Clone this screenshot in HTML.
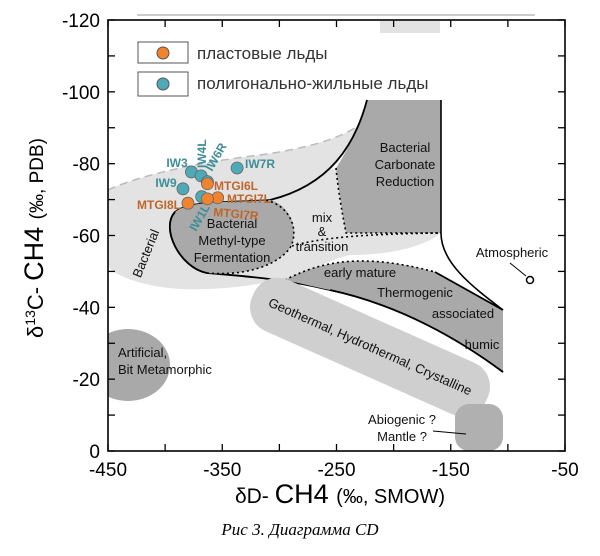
<!DOCTYPE html>
<html><head><meta charset="utf-8"><style>
body{margin:0;background:#fff;}
svg{display:block;font-family:"Liberation Sans",Arial,sans-serif;}
</style></head><body>
<svg id="chart" width="600" height="556" viewBox="0 0 600 556">
<rect width="600" height="556" fill="#fff"/>
<line x1="137" y1="15" x2="535" y2="15" stroke="#bbb" stroke-width="1.5"/>
<g id="regions">
  <rect x="380" y="21" width="60" height="12" fill="#e2e2e2"/>
  <path d="M108,190 C140,175 200,162 260,155 C310,148 340,138 358,126 L367,102 C360,135 345,155 330,170 L336,168 L346,232 L441,233 C420,250 380,255 350,255 C320,262 300,280 268,282 C230,290 180,292 150,285 C125,280 108,270 108,265 Z" fill="#e3e3e3"/>
  <path d="M108,190 C140,175 200,162 260,155 C310,148 340,138 358,126" fill="none" stroke="#bbb" stroke-width="1.5" stroke-dasharray="8,5"/>
  <path d="M367,100 L441,100 L441,233 L346,233 C342,210 338,185 336,168 C348,150 360,125 367,100 Z" fill="#a9a9a9"/>
  <path d="M336,168 C338,190 342,212 346,233 L441,233" fill="none" stroke="#000" stroke-width="1.6" stroke-dasharray="2,3"/>
  <path d="M441,100 L441,233 C441,262 470,285 503,310" fill="none" stroke="#000" stroke-width="1.6"/>
  <path d="M367,100 C355,145 330,185 270,200 C230,203 190,200 175,212 C160,228 180,268 207,273 C240,276 280,278 330,290 C400,305 460,340 503,372" fill="none" stroke="#000" stroke-width="1.8"/>
  <path d="M270,200 C230,203 190,200 175,212 C160,228 180,268 207,273 C240,276 275,268 290,248 C300,230 290,205 270,200 Z" fill="#a9a9a9"/>
  <path d="M175,212 C160,228 180,268 207,273" fill="none" stroke="#000" stroke-width="1.8"/>
  <path d="M207,273 C240,276 275,268 290,248 C300,230 290,205 265,200" fill="none" stroke="#000" stroke-width="1.6" stroke-dasharray="2,3"/>
  <path d="M292,246 C320,238 360,234 441,233" fill="none" stroke="#000" stroke-width="1.6" stroke-dasharray="2,3"/>
  <path d="M285,280 C320,262 360,252 435,272 L503,310 L503,372 C460,340 400,305 330,290 C310,286 295,282 285,280 Z" fill="#a9a9a9"/>
  <path d="M285,280 C320,262 360,252 435,272" fill="none" stroke="#000" stroke-width="1.6" stroke-dasharray="2,3"/>
  <path d="M435,272 L503,310" stroke="#000" stroke-width="1.8"/>
  <g transform="translate(370,347) rotate(24)">
    <rect x="-128" y="-28" width="256" height="56" rx="26" fill="#cfcfcf"/>
    <text x="0" y="4" text-anchor="middle" font-size="13" fill="#111">Geothermal, Hydrothermal, Crystalline</text>
  </g>
  <path d="M330,290 C400,305 460,340 503,372" fill="none" stroke="#000" stroke-width="1.8"/>
  <ellipse cx="128" cy="365" rx="42" ry="36" fill="#a9a9a9"/>
  <rect x="455" y="404" width="48" height="47" rx="14" fill="#b0b0b0"/>
</g>
<g id="frame">
  <rect x="0" y="0" width="108" height="556" fill="#fff"/>
  <rect x="108" y="20" width="457" height="431" fill="none" stroke="#000" stroke-width="1.6"/>
</g>
<g id="ticks" stroke="#000" stroke-width="1.3"></g>
<g id="labels" font-size="19" fill="#000"></g>
<g font-size="13" fill="#111">
  <text x="405" y="152" text-anchor="middle">Bacterial</text>
  <text x="405" y="169" text-anchor="middle">Carbonate</text>
  <text x="405" y="186" text-anchor="middle">Reduction</text>
  <text x="232" y="228" text-anchor="middle">Bacterial</text>
  <text x="232" y="245" text-anchor="middle">Methyl-type</text>
  <text x="232" y="262" text-anchor="middle">Fermentation</text>
  <text x="322" y="222" text-anchor="middle">mix</text>
  <text x="322" y="236" text-anchor="middle">&amp;</text>
  <text x="322" y="251" text-anchor="middle">transition</text>
  <text x="360" y="277" text-anchor="middle">early mature</text>
  <text x="415" y="297" text-anchor="middle">Thermogenic</text>
  <text x="463" y="318" text-anchor="middle">associated</text>
  <text x="482" y="349" text-anchor="middle">humic</text>
  <text x="150" y="255" text-anchor="middle" transform="rotate(-68 150 255)">Bacterial</text>
  <text x="118" y="357">Artificial,</text>
  <text x="118" y="374">Bit Metamorphic</text>
  <text x="436" y="424" text-anchor="end">Abiogenic ?</text>
  <text x="427" y="441" text-anchor="end">Mantle ?</text>
  <line x1="433" y1="431" x2="466" y2="434" stroke="#000" stroke-width="1"/>
  <text x="512" y="257" text-anchor="middle">Atmospheric</text>
  <line x1="510" y1="263" x2="526" y2="276" stroke="#000" stroke-width="1"/>
  <circle cx="530" cy="280" r="3.5" fill="#fff" stroke="#000" stroke-width="1.5"/>
</g>
<g id="legend">
  <rect x="138" y="42" width="50" height="21" fill="#fff" stroke="#555"/>
  <circle cx="163" cy="53" r="6" fill="#f0832e" stroke="#555"/>
  <text x="197" y="59" font-size="17" fill="#333">пластовые льды</text>
  <rect x="138" y="72" width="50" height="24" fill="#fff" stroke="#555"/>
  <circle cx="163" cy="84" r="6" fill="#4eaab6" stroke="#555"/>
  <text x="197" y="89" font-size="17" fill="#333">полигонально-жильные льды</text>
</g>
<g id="points"></g>
<g font-size="12" font-weight="bold">
  <text x="177" y="167" text-anchor="middle" fill="#3f8e97">IW3</text>
  <text x="166" y="187" text-anchor="middle" fill="#3f8e97">IW9</text>
  <text x="206" y="168" fill="#3f8e97" transform="rotate(-90 206 168)">IW4L</text>
  <text x="212" y="172" fill="#3f8e97" transform="rotate(-60 212 172)">IW6R</text>
  <text x="245" y="168" fill="#3f8e97">IW7R</text>
  <text x="196" y="232" fill="#3f8e97" transform="rotate(-60 196 232)">IW1L</text>
  <text x="214" y="190" fill="#c0662a">MTGI6L</text>
  <text x="227" y="203" fill="#c0662a">MTGI7L</text>
  <text x="213" y="216" fill="#c0662a" transform="rotate(5 213 216)">MTGI7R</text>
  <text x="181" y="209" text-anchor="end" fill="#c0662a">MTGI8L</text>
</g>
<g>
  <text transform="translate(43,238) rotate(-90)" text-anchor="middle" fill="#000"><tspan font-size="22">δ<tspan font-size="14" dy="-8">13</tspan><tspan dy="8">C-  </tspan></tspan><tspan font-size="27">CH4  </tspan><tspan font-size="19">(‰, PDB)</tspan></text>
  <text x="340" y="503" text-anchor="middle" fill="#000"><tspan font-size="21">δD- </tspan><tspan font-size="27">CH4  </tspan><tspan font-size="20">  (‰, SMOW)</tspan></text>
  <text x="300" y="535" text-anchor="middle" font-family="Liberation Serif,serif" font-style="italic" font-size="17" fill="#000">Рис 3. Диаграмма CD</text>
</g>
</svg>
<script>
const xTicks = [-450, -350, -250, -150, -50];
const yTicks = [-120, -100, -80, -60, -40, -20, 0];
const orangeD = [-363, -354, -363, -380];
const orangeC = [-74.4, -70.5, -70.2, -69];
const tealD = [-377, -368.5, -363, -337, -384.4, -368];
const tealC = [-77.7, -76.6, -75, -78.8, -73, -70.8];
const NS = 'http://www.w3.org/2000/svg';
function X(d){return 108 + (d + 450) * 1.1425;}
function Y(c){return 451 + c * 3.5917;}
const tk = document.getElementById('ticks');
const lb = document.getElementById('labels');
function ln(x1,y1,x2,y2){const l=document.createElementNS(NS,'line');l.setAttribute('x1',x1);l.setAttribute('y1',y1);l.setAttribute('x2',x2);l.setAttribute('y2',y2);


tk.appendChild(l);}
for(let d=-450; d<=-50; d+=50){const x=X(d); ln(x,451,x,444); ln(x,20,x,27);}
for(let c=-120; c<=0; c+=10){const y=Y(c); ln(108,y,115,y); ln(565,y,558,y);}
xTicks.forEach(v=>{const t=document.createElementNS(NS,'text');t.setAttribute('x',X(v));t.setAttribute('y',476);t.setAttribute('text-anchor','middle');t.textContent=String(v);


lb.appendChild(t);});
yTicks.forEach(v=>{const t=document.createElementNS(NS,'text');t.setAttribute('x',100);t.setAttribute('y',Y(v)+7);t.setAttribute('text-anchor','end');t.textContent=String(v);


lb.appendChild(t);});
const pts = document.getElementById('points');
function dot(d,c,fill,name){const e=document.createElementNS(NS,'circle');e.setAttribute('cx',X(d));e.setAttribute('cy',Y(c));e.setAttribute('r',6);e.setAttribute('fill',fill);e.setAttribute('stroke','#666');e.setAttribute('stroke-width','0.8');


pts.appendChild(e);}
tealD.forEach((d,i)=>dot(d,tealC[i],'#4eaab6','teal-point'));
orangeD.forEach((d,i)=>dot(d,orangeC[i],'#f0832e','orange-point'));
</script>
</body></html>
